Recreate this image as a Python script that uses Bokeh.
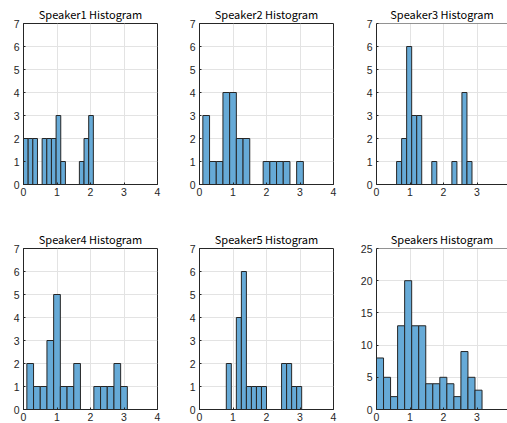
import numpy as np
from bokeh.plotting import figure
from bokeh.layouts import row, column
from bokeh.models import Span, FixedTicker, Range1d
from bokeh.embed import file_html
from bokeh.resources import INLINE

titles = ["Speaker1 Histogram", "Speaker2 Histogram", "Speaker3 Histogram",
          "Speaker4 Histogram", "Speaker5 Histogram", "Speakers Histogram"]

# histogram bins: first edge, bin width, counts
s1_start, s1_width = 0.0, 0.139
s1_counts = [2, 2, 2, 0, 2, 2, 2, 3, 1, 0, 0, 0, 1, 2, 3]
s2_start, s2_width = 0.1, 0.2
s2_counts = [3, 1, 1, 4, 4, 2, 2, 0, 0, 1, 1, 1, 1, 0, 1]
s3_start, s3_width = 0.6, 0.15
s3_counts = [1, 2, 6, 3, 3, 0, 0, 1, 0, 0, 0, 1, 0, 4, 1]
s4_start, s4_width = 0.1, 0.2
s4_counts = [2, 1, 1, 3, 5, 1, 1, 2, 0, 0, 1, 1, 1, 2, 1]
s5_start, s5_width = 0.8, 0.15
s5_counts = [2, 0, 4, 6, 1, 1, 1, 1, 0, 0, 0, 2, 2, 1, 1]
all_start, all_width = 0.0, 0.21
all_counts = [8, 5, 2, 13, 20, 13, 13, 4, 4, 5, 4, 2, 9, 5, 3]

x_ticks = [0, 1, 2, 3, 4]
y_ticks_small = [0, 1, 2, 3, 4, 5, 6, 7]
y_ticks_all = [0, 5, 10, 15, 20, 25]

FONT = "Noto Sans CJK JP"
TICKFONT = "Liberation Sans"
AX = "#262626"
GRID = "#e3e3e3"
FILL = "#66aad7"

def make(title, start, width, counts, yticks, ymax, xmax, col, rowi):
    fw = 134 if col < 2 else 131
    fh = 161
    mbl = 23 if col == 0 else 20
    mbr = 22 if col == 0 else (23 if col == 1 else 0)
    mbt = 23
    mbb = 41 if rowi == 0 else 14
    p = figure(width=mbl + fw + mbr, height=mbt + fh + mbb, output_backend="svg",
               toolbar_location=None, x_range=Range1d(0, xmax),
               y_range=Range1d(0, ymax), min_border_left=mbl,
               min_border_right=mbr, min_border_top=mbt, min_border_bottom=mbb)
    counts = np.array(counts, dtype=float)
    edges = start + width * np.arange(len(counts) + 1)
    m = counts > 0
    p.quad(left=edges[:-1][m], right=edges[1:][m], bottom=0, top=counts[m],
           fill_color=FILL, line_color=AX, line_width=1)
    p.title.text = title
    p.title.align = "center"
    p.title.text_font = FONT
    p.title.text_font_size = "11px"
    p.title.text_font_style = "normal"
    p.title.text_color = "#000000"
    p.title.standoff = 4
    for ax in (p.xaxis[0], p.yaxis[0]):
        ax.axis_line_color = AX
        ax.major_tick_line_color = AX
        ax.minor_tick_line_color = None
        ax.major_tick_in = 2
        ax.major_tick_out = 0
        ax.major_label_text_font = TICKFONT
        ax.major_label_text_font_size = "10.5px"
        ax.major_label_text_color = AX
    p.xaxis[0].major_label_standoff = 3
    p.yaxis[0].major_label_standoff = 4
    p.xaxis[0].ticker = FixedTicker(ticks=x_ticks)
    p.yaxis[0].ticker = FixedTicker(ticks=yticks)
    p.xgrid.ticker = FixedTicker(ticks=x_ticks)
    p.ygrid.ticker = FixedTicker(ticks=yticks)
    p.grid.grid_line_color = GRID
    p.background_fill_color = "white"
    p.border_fill_color = "white"
    if col < 2:
        p.outline_line_color = AX
        p.outline_line_alpha = 1
    else:
        p.outline_line_color = None
        p.add_layout(Span(location=ymax, dimension="width", line_color=AX,
                          line_width=1))
    return p

col3_xmax = 3.91
p1 = make(titles[0], s1_start, s1_width, s1_counts, y_ticks_small, 7, 4, 0, 0)
p2 = make(titles[1], s2_start, s2_width, s2_counts, y_ticks_small, 7, 4, 1, 0)
p3 = make(titles[2], s3_start, s3_width, s3_counts, y_ticks_small, 7, col3_xmax, 2, 0)
p4 = make(titles[3], s4_start, s4_width, s4_counts, y_ticks_small, 7, 4, 0, 1)
p5 = make(titles[4], s5_start, s5_width, s5_counts, y_ticks_small, 7, 4, 1, 1)
p6 = make(titles[5], all_start, all_width, all_counts, y_ticks_all, 25, col3_xmax, 2, 1)

layout = column(row(p1, p2, p3, spacing=0), row(p4, p5, p6, spacing=0), spacing=0)
open("out.html", "w").write(file_html(layout, INLINE))
